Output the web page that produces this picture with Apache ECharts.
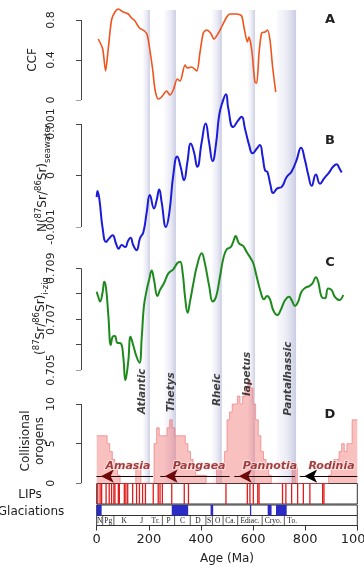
<!DOCTYPE html>
<html><head><meta charset="utf-8">
<script src="https://cdn.jsdelivr.net/npm/echarts@6/dist/echarts.min.js"></script>
<style>html,body{margin:0;padding:0;background:#fff}#c{width:364px;height:569px}</style>
</head><body><div id="c"></div><script>
// ---------- DATA ----------
const ccfAge = [6,23,34,45,57,70,83,102,121,134,147,164,183,194,204,215,224,236,249,268,281,294,309,320,339,348,364,384,396,409,422,437,450,467,483,499,511,537,556,565,578,584,595,607,614,623,633,646,655,665,675,687];
const ccfVal = [0.61,0.51,0.29,0.53,0.80,0.88,0.91,0.88,0.86,0.82,0.79,0.72,0.69,0.65,0.50,0.30,0.10,0.01,0.03,0.09,0.05,0.10,0.21,0.19,0.35,0.32,0.33,0.29,0.47,0.67,0.70,0.67,0.61,0.67,0.75,0.83,0.86,0.86,0.84,0.73,0.58,0.63,0.50,0.18,0.17,0.47,0.67,0.68,0.70,0.60,0.33,0.08];

// N(87Sr/86Sr) seawater, in units of 0.001
const swAge = [0,3,10,23,36,48,61,74,84,96,109,121,130,140,153,166,179,192,204,220,230,240,249,266,279,294,309,322,335,348,361,373,386,403,418,431,445,458,470,483,496,505,524,543,556,569,585,598,614,626,637,646,655,667,677,693,710,729,748,767,784,799,812,825,841,857,872,892,907,921,931,940];
const swVal = [-0.42,-0.30,-0.45,-1.03,-1.29,-1.22,-1.16,-1.32,-1.42,-1.35,-1.39,-1.26,-1.21,-1.35,-1.45,-1.22,-1.10,-0.71,-0.38,-0.64,-0.48,-0.27,-0.51,-1.00,-0.71,0.01,0.37,0.17,-0.09,0.26,0.62,0.46,0.17,0.65,1.01,0.65,0.28,0.62,1.17,1.43,1.58,1.30,0.94,1.07,1.14,0.91,0.59,0.43,0.52,0.59,0.36,0.10,0.07,-0.19,-0.34,-0.25,-0.22,-0.03,0.08,0.30,0.54,0.30,0.01,-0.20,0.02,-0.16,-0.06,0.06,0.17,0.22,0.14,0.06];

// (87Sr/86Sr) i-zig
const izAge = [0,6,13,23,29,36,45,54,61,70,79,92,102,110,121,130,140,153,164,173,181,192,201,211,220,233,243,258,275,294,309,320,330,339,349,358,371,384,403,415,432,445,458,473,486,499,514,524,533,546,562,575,591,601,614,629,642,654,665,677,693,706,722,738,748,761,773,786,803,816,828,841,850,863,876,888,901,914,931,946];
const izVal = [0.70808,0.70788,0.70769,0.70808,0.70847,0.70821,0.70710,0.70598,0.70631,0.70634,0.70607,0.70605,0.70552,0.70460,0.70533,0.70631,0.70598,0.70552,0.70529,0.70631,0.70749,0.70815,0.70854,0.70891,0.70854,0.70791,0.70815,0.70841,0.70880,0.70896,0.70920,0.70926,0.70880,0.70788,0.70725,0.70769,0.70841,0.70906,0.70959,0.70920,0.70828,0.70769,0.70788,0.70867,0.70939,0.70975,0.70983,0.71005,0.71027,0.70998,0.70988,0.70965,0.70939,0.70920,0.70867,0.70808,0.70778,0.70791,0.70778,0.70736,0.70716,0.70736,0.70773,0.70788,0.70775,0.70752,0.70769,0.70808,0.70825,0.70830,0.70841,0.70865,0.70847,0.70788,0.70782,0.70821,0.70815,0.70788,0.70775,0.70795];

// Collisional orogens: count per 10 Myr bin starting at 0 Ma
const orogenBinWidth = 10;
const orogenCount = [6,6,6,6,5,4,3,2,1,0, 0,0,0,0,0,2,2,0,0,0, 0,0,5,7,6,6,6,7,8,7, 6,6,6,6,5,4,3,2,1,1, 1,1,0,0,0,0,2,2,2,4, 8,9,10,10,11,10,11,12,13,12, 10,8,6,4,3,2,1,0,0,0, 0,0,0,0,0,2,2,0,0,0, 0,0,0,0,0,0,0,0,0,1, 2,3,3,4,5,4,5,5,8,8];

const lipAges = [4,13,19,36,48,57,66,70,83,87,106,112,119,138,153,164,176,187,217,236,243,252,288,336,352,496,578,588,601,618,623,713,726,748,771,793,818,867,872];
const glacStart = [0,288,437,588,656,688];
const glacEnd = [19,351,447,593,671,729];

const tsStart = [0,23,66,145,201,252,299,359,419,444,485,541,635,720];
const tsEnd = [23,66,145,201,252,299,359,419,444,485,541,635,720,1000];
const tsLabel = ['N','Pg','K','J','Tr.','P','C','D','S','O','Ca.','Ediac.','Cryo.','To.'];
const tsDividers = [23,66,252,299,359,419,444,485,541,635,720];

const bandNames = ['Atlantic','Thetys','Rheic','Iapetus','Pantalhassic'];
const bandStart = [178,260,442,581,691];
const bandEnd = [204,304,480,607,765];
const bandLabelAge = [174,288,464,578,736];
const bandLabelLevel = [11.6,11.5,11.8,13.8,13.2];

const superNames = ['Amasia','Pangaea','Pannotia','Rodinia'];
const superTail = [216,510,761,1000];
const superTip = [-9,236,520,771];
const superLabelAge = [120,393,665,901];
const superArrowLevel = 0.9;
const superLabelLevel = 2.2;

const xTicks = [0,200,400,600,800,1000];
const ccfTicks = [0,0.4,0.8];
const swTicks = [-1,0,1];            // x 0.001
const izTicks = [0.705,0.706,0.707,0.708,0.709];
const orogenTicks = [0,5,10];

// ---------- CHART ----------
const FONT = 'DejaVu Sans';
const TXT = '#222';
const AX = '#444';
const chart = echarts.init(document.getElementById('c'), null, {renderer:'canvas'});
const L = 96.7, R = 6.7;          // plot left edge (age 0), right margin
const AXL = 81, TICK = 5;         // y-axis line x, tick length
const GL = 68;                    // panel grid left (so the axis line sits inside the panel grids)
const pxPerMa = (364 - R - L) / (xTicks[xTicks.length-1] - xTicks[0]);
const panelMin = xTicks[0] - (L - GL) / pxPerMa;  // age at panel grid left
const axisAge = xTicks[0] - (L - AXL) / pxPerMa;  // age at the y-axis line
const tickMa = TICK / pxPerMa;
const panelBox = [[20,80],[124,103],[268.3,101.7],[404,79.3]]; // [top, height] of each ticked y range
const panelTicks = [ccfTicks,swTicks,izTicks,orogenTicks];
const grids = panelBox.map(b=>({left:GL,right:R,top:b[0],height:b[1]})).concat([
  {left:L,right:R,top:10,height:473},
  {left:L,right:R,top:483.5,height:20.5,show:true,borderColor:'#333',borderWidth:1},
  {left:L,right:R,top:505,height:10.5,show:true,borderColor:'#333',borderWidth:1},
  {left:L,right:R,top:515.5,height:10,show:true,borderColor:'#333',borderWidth:1}
]).map(g=>Object.assign(g,{containLabel:false,outerBoundsMode:'none'}));
const xAxes = grids.map((g,i)=>({
  gridIndex:i,type:'value',min:i<4?panelMin:xTicks[0],max:xTicks[xTicks.length-1],show:i===7,
  interval:i===7?200:undefined,
  axisLine:{show:true,onZero:false,lineStyle:{color:'#333',width:1}},
  axisTick:{show:true,length:5,lineStyle:{color:'#333'}},
  axisLabel:{fontSize:13,color:TXT,fontFamily:FONT,margin:8,formatter:v=>String(v),hideOverlap:false},
  splitLine:{show:false},
  name:i===7?'Age (Ma)':'',nameLocation:'middle',nameGap:27,
  nameTextStyle:{fontSize:12,color:TXT,fontFamily:FONT}
}));
function yAx(i,ticks,fmt){
  return {gridIndex:i,type:'value',min:ticks[0],max:ticks[ticks.length-1],interval:+(ticks[1]-ticks[0]).toFixed(6),position:'left',
    axisLine:{show:false,onZero:false},
    axisTick:{show:false},
    axisLabel:{show:true,rotate:90,fontSize:11,color:TXT,fontFamily:FONT,margin:(AXL-GL)-(L-AXL)+13.7,formatter:fmt},
    splitLine:{show:false}};
}
const yAxes = [
  yAx(0,ccfTicks,v=>String(+v.toFixed(1))),
  yAx(1,swTicks,v=>v===0?'0':String(+(v/1000).toFixed(3))),
  yAx(2,izTicks,v=>(Math.round(v*1000)%2===1)?v.toFixed(3):''),
  yAx(3,orogenTicks,v=>String(v)),
  {gridIndex:4,type:'value',min:0,max:1,show:false},
  {gridIndex:5,type:'value',min:0,max:1,show:false},
  {gridIndex:6,type:'value',min:0,max:1,show:false},
  {gridIndex:7,type:'value',min:0,max:1,show:false}
];

// y-axis lines + outward ticks, drawn inside each panel grid through its own scales
const axisSeries = panelTicks.map((t,k)=>({
  type:'lines',coordinateSystem:'cartesian2d',xAxisIndex:k,yAxisIndex:k,z:8,silent:true,
  symbol:'none',lineStyle:{color:AX,width:1,opacity:1},
  data:[{coords:[[axisAge,t[0]],[axisAge,t[t.length-1]]]}].concat(
    t.map(v=>({coords:[[axisAge-tickMa,v],[axisAge,v]]})))
}));

const bandGrad = () => new echarts.graphic.LinearGradient(0,0,1,0,[
  {offset:0,color:'rgba(215,217,236,0.12)'},
  {offset:0.55,color:'rgba(205,207,230,0.45)'},
  {offset:1,color:'rgba(188,191,218,0.8)'}]);

const orogenData = orogenCount.map((c,i)=>[i*orogenBinWidth,c]);
orogenData.push([orogenCount.length*orogenBinWidth, orogenCount[orogenCount.length-1]]);

const series = [
  {type:'line',xAxisIndex:4,yAxisIndex:4,data:[],z:0,silent:true,
   markArea:{silent:true,data:bandStart.map((s,i)=>[{xAxis:s,itemStyle:{color:bandGrad()}},{xAxis:bandEnd[i]}])}},
  {type:'line',xAxisIndex:0,yAxisIndex:0,data:ccfAge.map((a,i)=>[a,ccfVal[i]]),
   symbol:'none',smooth:0.25,clip:false,z:3,lineStyle:{color:'#f0541c',width:1.6}},
  {type:'line',xAxisIndex:1,yAxisIndex:1,data:swAge.map((a,i)=>[a,swVal[i]]),
   symbol:'none',smooth:0.5,clip:false,z:3,lineStyle:{color:'#1c1cd8',width:2}},
  {type:'line',xAxisIndex:2,yAxisIndex:2,data:izAge.map((a,i)=>[a,izVal[i]]),
   symbol:'none',smooth:0.45,clip:false,z:3,lineStyle:{color:'#1e8a1e',width:2}},
  {type:'line',xAxisIndex:3,yAxisIndex:3,data:orogenData,step:'end',symbol:'none',clip:false,z:2,
   lineStyle:{color:'rgba(235,110,110,0.75)',width:0.8},areaStyle:{color:'rgba(240,100,100,0.58)'}},
  {type:'lines',coordinateSystem:'cartesian2d',xAxisIndex:3,yAxisIndex:3,z:5,
   symbol:'none',
   data:superNames.map((n,i)=>({coords:[[superTail[i],superArrowLevel],[superTip[i]+8,superArrowLevel]],
     lineStyle:{color:'#1a0000',width:1,opacity:1}}))},
  {type:'scatter',xAxisIndex:3,yAxisIndex:3,clip:false,z:6,symbol:'arrow',symbolSize:[10,13],symbolRotate:90,
   symbolOffset:[6.5,0],
   data:superNames.map((n,i)=>({value:[superTip[i],superArrowLevel],itemStyle:{color:i===3?'#000':'#6e0707',opacity:1}}))},
  {type:'scatter',xAxisIndex:3,yAxisIndex:3,clip:false,z:7,symbolSize:0,
   data:superNames.map((n,i)=>({name:n,value:[superLabelAge[i],superLabelLevel]})),
   label:{show:true,position:'inside',formatter:p=>p.name,fontSize:11,fontWeight:'bold',fontStyle:'italic',
     fontFamily:FONT,color:'#8a1010',textBorderColor:'rgba(255,235,235,0.9)',textBorderWidth:2}},
  {type:'scatter',xAxisIndex:3,yAxisIndex:3,clip:false,z:7,symbolSize:0,
   data:bandNames.map((n,i)=>({name:n,value:[bandLabelAge[i],bandLabelLevel[i]]})),
   label:{show:true,position:'inside',rotate:90,formatter:p=>p.name,fontSize:10.5,fontWeight:'bold',
     fontStyle:'italic',fontFamily:FONT,color:'#111'}},
  {type:'custom',xAxisIndex:5,yAxisIndex:5,z:3,data:lipAges.map(a=>[a,0.5]),
   renderItem:(p,api)=>{const x=api.coord([api.value(0),0])[0];const cs=p.coordSys;
     return {type:'line',shape:{x1:x,y1:cs.y,x2:x,y2:cs.y+cs.height},style:{stroke:'#e01c1c',lineWidth:1.3}};}},
  {type:'custom',xAxisIndex:6,yAxisIndex:6,z:3,data:glacStart.map((s,i)=>[s,glacEnd[i]]),
   renderItem:(p,api)=>{const x1=api.coord([api.value(0),0])[0];const x2=api.coord([api.value(1),0])[0];const cs=p.coordSys;
     return {type:'rect',shape:{x:x1,y:cs.y,width:Math.max(x2-x1,1.2),height:cs.height},style:{fill:'#2a2ac6'}};}},
  {type:'custom',xAxisIndex:7,yAxisIndex:7,z:3,data:tsDividers.map(a=>[a,0.5]),
   renderItem:(p,api)=>{const x=api.coord([api.value(0),0])[0];const cs=p.coordSys;
     return {type:'line',shape:{x1:x,y1:cs.y,x2:x,y2:cs.y+cs.height},style:{stroke:'#333',lineWidth:0.8}};}},
  {type:'custom',xAxisIndex:7,yAxisIndex:7,z:3,data:tsStart.map((s,i)=>[s,tsEnd[i],i]),
   renderItem:(p,api)=>{const i=api.value(2);const s=api.value(0),e=api.value(1);const cs=p.coordSys;
     const last = i===tsLabel.length-1;
     const x = last ? api.coord([s,0])[0]+3 : api.coord([(s+e)/2,0])[0];
     return {type:'text',x:x,y:cs.y+cs.height/2+0.5,style:{text:tsLabel[i],fontSize:7.5,fontFamily:'Liberation Serif',fill:'#222',
       align:last?'left':'center',textAlign:last?'left':'center',verticalAlign:'middle',textVerticalAlign:'middle'}};}}
].concat(axisSeries);

function gtext(x,y,text,o){
  o=o||{};
  return {type:'text',x:x,y:y,rotation:o.rot||0,z:10,
    style:{text:text,fill:TXT,fontSize:o.size||12,fontFamily:FONT,fontWeight:o.weight||'normal',
      align:'center',textAlign:'center',verticalAlign:'middle',textVerticalAlign:'middle',rich:o.rich}};
}
const richT = {
  a:{fontSize:12,fontFamily:FONT,fill:TXT,lineHeight:18,verticalAlign:'middle'},
  p:{fontSize:8.5,fontFamily:FONT,fill:TXT,lineHeight:8,verticalAlign:'top'},
  b:{fontSize:8.5,fontFamily:FONT,fill:TXT,lineHeight:8,verticalAlign:'bottom'}
};
const graphics = [
  gtext(33,60,'CCF',{rot:Math.PI/2}),
  gtext(43,178,'{a|N(}{p|87}{a|Sr/}{p|86}{a|Sr)}{b|seawater}',{rot:Math.PI/2,rich:richT}),
  gtext(41,316,'{a|(}{p|87}{a|Sr/}{p|86}{a|Sr)}{b|i-zig}',{rot:Math.PI/2,rich:richT}),
  gtext(26,441,'Collisional',{rot:Math.PI/2}),
  gtext(40,441,'orogens',{rot:Math.PI/2}),
  gtext(30,495,'LIPs'),
  gtext(31,511.5,'Glaciations'),
  gtext(330,20,'A',{size:13,weight:'bold'}),
  gtext(330,141,'B',{size:13,weight:'bold'}),
  gtext(330,263,'C',{size:13,weight:'bold'}),
  gtext(330,415,'D',{size:13,weight:'bold'})
];

chart.setOption({
  animation:false,
  backgroundColor:'#fff',
  grid:grids, xAxis:xAxes, yAxis:yAxes, series:series,
  graphic:{elements:graphics}
});
</script></body></html>
